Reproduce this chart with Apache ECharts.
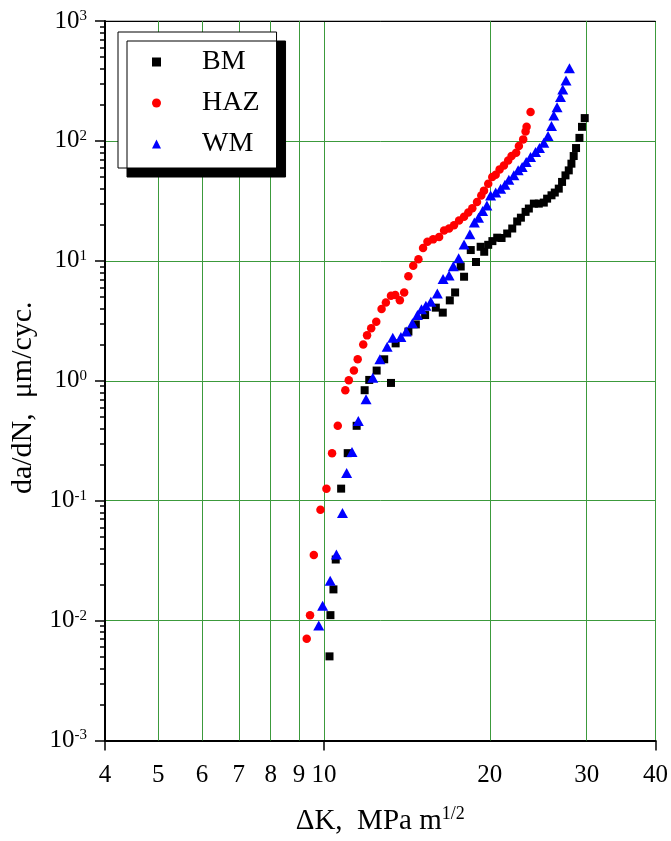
<!DOCTYPE html>
<html>
<head>
<meta charset="utf-8">
<script src="https://cdn.jsdelivr.net/npm/echarts@6/dist/echarts.min.js"></script>
<style>
  html, body { margin: 0; padding: 0; background: #fff; }
  #chart { width: 671px; height: 841px; }
</style>
</head>
<body>
<div id="chart"></div>
<script>
// ΔK (MPa m^1/2) and da/dN (µm/cycle)
const bmK = [10.23, 10.27, 10.40, 10.50, 10.74, 11.04, 11.46, 11.85, 12.08, 12.46, 12.86, 13.23, 13.49, 14.23, 14.68, 15.26, 15.96, 16.43, 16.92, 17.30, 17.71, 17.96, 18.47, 18.88, 19.25, 19.54, 19.87, 20.22, 20.63, 21.01, 21.51, 21.97, 22.43, 22.78, 23.23, 23.55, 24.05, 24.55, 25.07, 25.42, 25.89, 26.25, 26.69, 27.06, 27.45, 27.83, 28.14, 28.41, 28.69, 29.10, 29.41, 29.75]
const bmRate = [0.00503, 0.0111, 0.0182, 0.0323, 0.126, 0.249, 0.421, 0.834, 1.016, 1.216, 1.51, 0.959, 2.05, 2.57, 2.95, 3.53, 4.07, 3.70, 4.68, 5.45, 8.97, 7.37, 12.3, 9.78, 13.1, 11.9, 13.6, 14.6, 15.6, 15.5, 16.9, 18.6, 21.3, 22.9, 25.6, 27.3, 30.0, 30.0, 30.6, 33.0, 35.2, 37.1, 40.0, 45.5, 51.6, 56.8, 64.6, 74.8, 87.2, 106, 131, 155]

const hazK = [9.30, 9.43, 9.58, 9.85, 10.10, 10.34, 10.59, 10.93, 11.09, 11.33, 11.51, 11.78, 11.97, 12.18, 12.44, 12.72, 12.95, 13.23, 13.47, 13.73, 13.98, 14.23, 14.52, 14.84, 15.13, 15.41, 15.78, 16.18, 16.52, 16.87, 17.22, 17.59, 17.96, 18.28, 18.59, 18.96, 19.30, 19.52, 19.87, 20.21, 20.50, 20.84, 21.22, 21.60, 21.91, 22.33, 22.59, 23.00, 23.23, 23.33, 23.72]
const hazRate = [0.00706, 0.0111, 0.0353, 0.0841, 0.126, 0.249, 0.421, 0.834, 1.01, 1.22, 1.51, 2.01, 2.39, 2.74, 3.11, 3.96, 4.50, 5.12, 5.18, 4.70, 5.45, 7.45, 9.10, 10.3, 12.8, 14.4, 15.1, 15.8, 17.9, 18.6, 19.8, 21.7, 23.3, 25.3, 27.5, 31.0, 35.0, 38.5, 44.0, 50.1, 52.3, 57.9, 62.5, 68.8, 74.8, 79.7, 90.7, 103, 120, 131, 174]

const wmK = [9.78, 9.94, 10.26, 10.53, 10.80, 10.99, 11.24, 11.54, 11.92, 12.26, 12.63, 13.02, 13.33, 13.79, 14.10, 14.47, 14.78, 15.03, 15.31, 15.63, 16.06, 16.45, 16.87, 17.17, 17.56, 17.96, 18.40, 18.75, 19.08, 19.41, 19.76, 20.07, 20.50, 20.93, 21.31, 21.66, 22.12, 22.52, 22.90, 23.29, 23.72, 24.22, 24.62, 25.07, 25.52, 25.89, 26.14, 26.50, 26.88, 27.14, 27.51, 27.91]
const wmRate = [0.00911, 0.0133, 0.0215, 0.0355, 0.079, 0.170, 0.254, 0.461, 0.702, 1.06, 1.51, 1.92, 2.28, 2.32, 2.58, 3.01, 3.53, 3.94, 4.23, 4.56, 5.35, 7.06, 7.55, 9.01, 10.5, 13.7, 16.7, 20.9, 22.9, 26.0, 28.9, 35.0, 37.1, 40.0, 43.2, 47.5, 51.6, 56.8, 60.6, 66.7, 73.4, 80.8, 87.2, 96.6, 110, 133, 163, 191, 232, 268, 319, 404]

// x tick labels and the extra vertical grid lines between them
const xLabels = [4, 5, 6, 7, 8, 9, 10, 20, 30, 40]
const xGrid = [5, 6, 7, 8, 9, 20, 30]

const FONT = 'Liberation Serif'
const GREEN = '#3c9a3c'

function zip(xs, ys) {
  return xs.map((x, i) => [x, ys[i]])
}

const chart = echarts.init(document.getElementById('chart'))

chart.setOption({
  animation: false,
  backgroundColor: '#fff',
  grid: {
    left: 105,
    right: 13,
    top: 21,
    bottom: 98,
    show: true,
    borderColor: '#777',
    borderWidth: 1
  },
  legend: {
    orient: 'vertical',
    left: 118,
    top: 32,
    padding: [16, 17, 10, 34],
    itemGap: 13,
    itemWidth: 9,
    itemHeight: 9,
    backgroundColor: '#fff',
    borderColor: '#000',
    borderWidth: 1,
    shadowColor: '#000',
    shadowBlur: 0,
    shadowOffsetX: 9,
    shadowOffsetY: 9,
    textStyle: { fontFamily: FONT, fontSize: 28, color: '#000', padding: [0, 0, 0, 36] },
    data: ['BM', 'HAZ', 'WM']
  },
  xAxis: [
    {
      type: 'log',
      logBase: 10,
      min: 4,
      max: 40,
      position: 'bottom',
      name: 'ΔK,  MPa m{s|1/2}',
      nameLocation: 'middle',
      nameGap: 65,
      nameTextStyle: {
        fontFamily: FONT,
        fontSize: 29,
        color: '#000',
        rich: {
          s: { fontFamily: FONT, fontSize: 18, color: '#000', verticalAlign: 'top', padding: [0, 0, 14, 0] }
        }
      },
      axisLine: { show: true, onZero: false, lineStyle: { color: '#000', width: 2 } },
      axisTick: { show: true, length: 10, lineStyle: { color: '#000', width: 1.5 } },
      axisLabel: { show: true, customValues: xLabels, margin: 22, fontFamily: FONT, fontSize: 25, color: '#000' },
      splitLine: { show: true, lineStyle: { color: GREEN, width: 1 } }
    },
    {
      // top frame line
      type: 'log',
      logBase: 10,
      min: 4,
      max: 40,
      position: 'top',
      axisLine: { show: true, onZero: false, lineStyle: { color: '#000', width: 1 } },
      axisTick: { show: false },
      axisLabel: { show: false },
      splitLine: { show: false }
    }
  ],
  yAxis: {
    type: 'log',
    logBase: 10,
    min: 0.001,
    max: 1000,
    name: 'da/dN,  μm/cyc.',
    nameLocation: 'middle',
    nameGap: 66,
    nameTextStyle: { fontFamily: FONT, fontSize: 30, color: '#000', padding: [0, 34, 0, 0] },
    axisLine: { show: true, onZero: false, lineStyle: { color: '#000', width: 2 } },
    axisTick: { show: true, length: 10, lineStyle: { color: '#000', width: 1.5 } },
    minorTick: { show: true, splitNumber: 9, length: 5, lineStyle: { color: '#000', width: 1.5 } },
    axisLabel: {
      show: true,
      margin: 18,
      formatter: v => '{b|10}{s|' + Math.round(Math.log10(v)) + '}',
      rich: {
        b: { fontFamily: FONT, fontSize: 25, color: '#000' },
        s: { fontFamily: FONT, fontSize: 15, color: '#000', verticalAlign: 'top', padding: [0, 0, 10, 0] }
      }
    },
    splitLine: { show: true, lineStyle: { color: GREEN, width: 1 } }
  },
  series: [
    {
      name: 'BM',
      type: 'scatter',
      symbol: 'rect',
      symbolSize: 8,
      itemStyle: { color: '#000', opacity: 1 },
      data: zip(bmK, bmRate),
      markLine: {
        silent: true,
        z: 1,
        symbol: 'none',
        label: { show: false },
        lineStyle: { color: GREEN, width: 1, type: 'solid' },
        data: xGrid.map(v => ({ xAxis: v }))
      }
    },
    {
      name: 'HAZ',
      type: 'scatter',
      symbol: 'circle',
      symbolSize: 8.5,
      itemStyle: { color: '#ff0000', opacity: 1 },
      data: zip(hazK, hazRate)
    },
    {
      name: 'WM',
      type: 'scatter',
      symbol: 'triangle',
      symbolSize: [11, 10],
      itemStyle: { color: '#0000ff', opacity: 1 },
      data: zip(wmK, wmRate)
    }
  ]
})
</script>
</body>
</html>
